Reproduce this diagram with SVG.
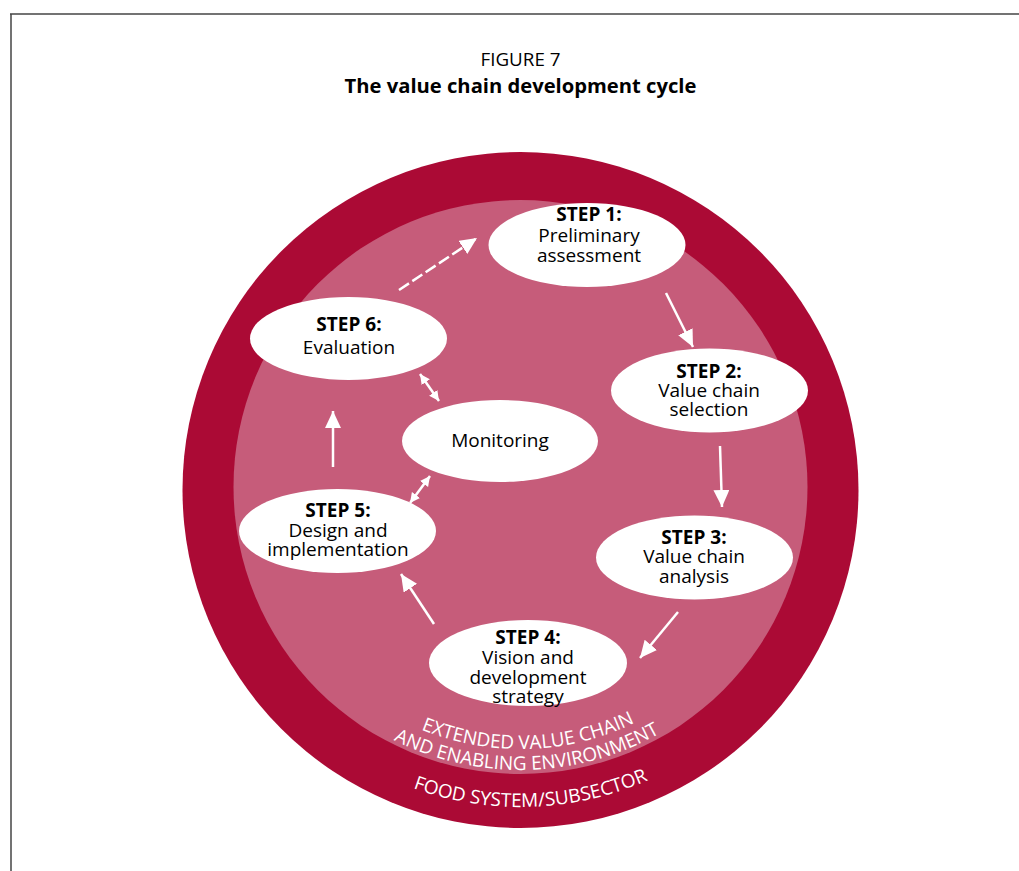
<svg xmlns="http://www.w3.org/2000/svg" xmlns:xlink="http://www.w3.org/1999/xlink" width="1019" height="871" viewBox="0 0 1019 871">
  <defs>
    <style>
      .frame { stroke: #444; stroke-width: 1.5; fill: none; }
      .title { font-family: "Open Sans", "Noto Sans", "Liberation Sans", sans-serif; fill: #000; text-anchor: middle; }
      .node { fill: #fff; }
      .lbl { font-family: "Open Sans", "Noto Sans", "Liberation Sans", sans-serif; font-size: 19px; fill: #000; text-anchor: middle; }
      .b { font-weight: bold; }
      .arc { font-family: "Open Sans", "Noto Sans", "Liberation Sans", sans-serif; font-size: 19px; fill: #fff; text-anchor: middle; }
      .arr { stroke: #fff; stroke-width: 2.5; fill: none; marker-end: url(#head); }
      .dbl { stroke: #fff; stroke-width: 2.5; fill: none; marker-end: url(#small); marker-start: url(#small); }
    </style>
    <marker id="head" markerUnits="userSpaceOnUse" markerWidth="18" markerHeight="18" viewBox="0 0 18 18" refX="17" refY="8" orient="auto">
      <path d="M0,0 L17,8 L0,16 z" fill="#fff"/>
    </marker>
    <marker id="small" markerUnits="userSpaceOnUse" markerWidth="11" markerHeight="11" viewBox="0 0 11 11" refX="10" refY="5" orient="auto-start-reverse">
      <path d="M0,0 L10,5 L0,10 z" fill="#fff"/>
    </marker>
    <path id="arcA" d="M 258.5 487 A 262 262 0 0 0 782.5 487"/>
    <path id="arcB" d="M 237.5 487 A 283 283 0 0 0 803.5 487"/>
    <path id="arcC" d="M 203.5 490 A 317 317 0 0 0 837.5 490"/>
  </defs>

  <g id="frame">
    <line class="frame" x1="10" y1="14" x2="1019" y2="14"/>
    <line class="frame" x1="11" y1="14" x2="11" y2="871"/>
  </g>

  <g id="title">
    <text class="title" x="520.5" y="66" font-size="18.8">FIGURE 7</text>
    <text class="title" x="520.5" y="93" font-size="20.2" font-weight="bold">The value chain development cycle</text>
  </g>

  <g id="food-system">
    <circle cx="520.5" cy="490" r="338" fill="#AB0A35"/>
    <text class="arc" font-size="18.5"><textPath xlink:href="#arcC" startOffset="51.1%">FOOD SYSTEM/SUBSECTOR</textPath></text>
  </g>

  <g id="extended-value-chain">
    <circle cx="520.5" cy="487" r="287" fill="#C65C7A"/>
    <text class="arc"><textPath xlink:href="#arcA" startOffset="51%">EXTENDED VALUE CHAIN</textPath></text>
    <text class="arc"><textPath xlink:href="#arcB" startOffset="50.8%">AND ENABLING ENVIRONMENT</textPath></text>
  </g>

  <g id="connectors">
    <line class="arr" x1="399" y1="290" x2="477" y2="238" stroke-dasharray="12 4"/>
    <line class="arr" x1="666" y1="293" x2="693" y2="347"/>
    <line class="arr" x1="720" y1="446" x2="722" y2="507"/>
    <line class="arr" x1="678" y1="612" x2="640" y2="658"/>
    <line class="arr" x1="434" y1="624" x2="401" y2="574"/>
    <line class="arr" x1="333" y1="467" x2="333" y2="411"/>
    <line class="dbl" x1="420" y1="374" x2="439" y2="401"/>
    <line class="dbl" x1="430" y1="476" x2="410" y2="503"/>
  </g>

  <g id="step1">
    <ellipse class="node" cx="587" cy="245" rx="98.5" ry="42"/>
    <text class="lbl b" x="589" y="221">STEP 1:</text>
    <text class="lbl" x="589" y="242">Preliminary</text>
    <text class="lbl" x="589" y="262">assessment</text>
  </g>

  <g id="step2">
    <ellipse class="node" cx="709.5" cy="390.5" rx="98.5" ry="42"/>
    <text class="lbl b" x="709" y="378">STEP 2:</text>
    <text class="lbl" x="709" y="397">Value chain</text>
    <text class="lbl" x="709" y="416">selection</text>
  </g>

  <g id="step3">
    <ellipse class="node" cx="694.5" cy="557.5" rx="98.5" ry="42"/>
    <text class="lbl b" x="694" y="544">STEP 3:</text>
    <text class="lbl" x="694" y="563">Value chain</text>
    <text class="lbl" x="694" y="583">analysis</text>
  </g>

  <g id="step4">
    <ellipse class="node" cx="528" cy="663" rx="99" ry="43"/>
    <text class="lbl b" x="528" y="644">STEP 4:</text>
    <text class="lbl" x="528" y="664">Vision and</text>
    <text class="lbl" x="528" y="684">development</text>
    <text class="lbl" x="528" y="703">strategy</text>
  </g>

  <g id="step5">
    <ellipse class="node" cx="337.5" cy="531" rx="98.5" ry="42"/>
    <text class="lbl b" x="338" y="517">STEP 5:</text>
    <text class="lbl" x="338" y="537">Design and</text>
    <text class="lbl" x="338" y="556">implementation</text>
  </g>

  <g id="step6">
    <ellipse class="node" cx="348.5" cy="338.5" rx="98.5" ry="41.5"/>
    <text class="lbl b" x="349" y="331">STEP 6:</text>
    <text class="lbl" x="349" y="354">Evaluation</text>
  </g>

  <g id="monitoring">
    <ellipse class="node" cx="500" cy="441" rx="98" ry="41"/>
    <text class="lbl" x="500" y="447" font-size="19.5">Monitoring</text>
  </g>
</svg>
